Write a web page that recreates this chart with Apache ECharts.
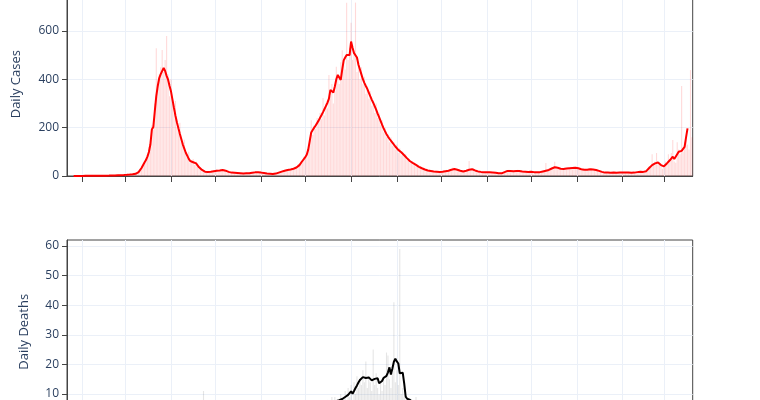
<!DOCTYPE html>
<html><head><meta charset="utf-8">
<script src="https://cdn.jsdelivr.net/npm/echarts@6/dist/echarts.min.js"></script>
<style>html,body{margin:0;padding:0;background:#fff}#c{width:760px;height:400px}</style>
</head><body><div id="c"></div>
<script>
// First day of data and number of days (one category per day)
const startDate = '2020-01-22';
const dayCount = 424;

// Daily cases (bars), index 0 = 2020-01-22
const casesDaily = [
0,0,0,0,0,0,1,0,0,0,
1,0,0,1,0,2,0,1,1,0,
1,2,1,0,2,1,2,3,1,2,
4,3,2,5,4,3,6,5,4,6,
5,8,7,6,10,9,13,14,22,30,
41,52,48,75,88,120,150,210,190,300,
528,360,420,450,521,430,480,579,420,330,
400,300,260,310,200,180,220,140,120,150,
90,80,100,55,60,70,45,60,40,30,
35,20,25,15,18,20,16,22,14,25,
20,28,18,26,30,22,28,18,15,20,
12,16,14,10,15,9,13,11,8,12,
10,14,9,12,15,11,18,14,16,19,
12,15,11,13,9,12,7,10,6,9,
11,8,15,13,20,16,24,19,28,22,
30,24,34,27,38,30,48,42,60,55,
80,72,95,110,160,230,170,210,195,240,
220,260,235,322,250,300,280,418,330,380,
300,350,452,400,380,470,520,480,440,716,
480,530,634,480,500,717,430,470,400,450,
380,410,340,370,320,350,290,310,260,300,
240,260,210,230,180,200,160,175,140,160,
125,140,110,130,95,115,85,100,80,90,
65,72,55,62,48,55,40,46,34,40,
28,32,24,30,20,26,18,24,16,22,
15,20,14,22,16,24,18,26,20,28,
22,35,26,32,22,28,18,24,15,22,
18,22,62,30,22,32,18,24,15,20,
14,19,13,18,12,17,12,16,11,15,
10,14,9,12,8,15,18,22,20,26,
18,24,17,23,19,26,18,22,16,21,
15,20,14,19,16,20,13,18,12,17,
14,19,17,24,54,22,30,26,35,34,
59,40,30,36,26,32,25,34,28,35,
29,36,28,38,30,36,27,33,24,30,
22,28,24,31,25,32,24,29,21,26,
18,22,14,18,12,16,12,15,11,16,
12,15,11,14,12,16,12,17,12,15,
12,14,11,14,13,17,14,20,16,19,
15,20,18,30,40,35,90,50,60,95,
48,55,40,30,45,60,50,90,70,95,
149,60,55,140,110,90,372,100,140,150,
130,110,438,160
];

// 7-day average of cases (line)
const casesAvg = [
null,null,null,null,0.3,0.3,0.3,0.4,0.4,0.4,
0.4,0.6,0.6,0.6,0.7,0.7,0.7,0.9,0.9,1,
1,1,1.1,1.1,1.3,1.3,1.4,1.6,1.6,1.9,
1.9,2.1,2.3,2.6,2.9,3.1,3.4,3.7,4.1,4.4,
4.9,5.3,5.9,6.4,7.0,7.9,9.1,10.6,16,24,
33,44,56,66,80,99,130,192,203,268,
330,372,405,421,418,447,434,414,398,372,
349,315,281,249,221,197,174,152,130,113,
96,84,71,62,55,57,58,52,44,36,
30,25,21,18,17,17,18,18,19,20,
21,22,23,23,24,25,24,22,19,17,
15,14,14,13,12,12,11,11,11,10,
10,11,11,11,12,13,14,15,15,15,
15,14,13,12,11,10,9,9,8,8,
9,10,12,14,16,18,20,22,24,25,
26,27,29,30,32,35,40,45,53,62,
70,78,89,110,145,180,190,200,209,217,
229,241,252,264,277,290,303,320,356,350,
345,370,400,418,410,397,440,478,490,500,
495,500,556,530,508,500,490,460,440,420,
400,385,372,360,345,330,316,303,289,274,
258,243,228,212,198,185,173,163,154,146,
138,130,122,115,108,103,98,92,86,80,
73,66,61,57,53,49,46,42,38,35,
32,29,27,25,23,22,21,20,19,18,
18,18,17,18,18,19,20,21,22,24,
26,28,29,28,26,24,22,20,19,20,
22,24,26,27,28,26,23,21,19,18,
17,17,16,16,15,15,15,14,14,13,
13,12,11,10,11,13,16,19,21,22,
21,20,20,21,21,22,21,20,19,19,
18,18,17,17,18,17,16,16,15,15,
16,17,19,21,22,23,25,28,31,34,
36,36,34,32,30,29,29,30,31,31,
32,32,33,33,34,33,32,30,28,27,
26,25,26,27,28,28,27,26,25,23,
21,19,17,15,14,14,14,13,13,14,
14,14,13,13,14,14,14,15,14,14,
14,13,13,13,14,15,16,18,18,17,
17,18,20,26,33,40,45,49,52,55,
56,52,45,38,40,48,52,58,65,72,
80,70,62,90,100,102,104,106,120,160,
197,null,null,null
];

// Daily deaths (bars)
const deathsDaily = [
0,0,0,0,0,0,0,0,0,0,
0,0,0,0,0,0,0,0,0,0,
0,0,0,0,0,0,0,0,0,0,
0,0,0,0,0,0,0,0,0,0,
0,0,0,0,0,0,0,0,0,0,
0,1,0,1,0,1,2,1,2,2,
3,2,1,4,3,5,2,4,6,3,
5,4,6,3,5,7,2,4,6,5,
3,5,4,2,6,3,4,5,3,4,
5,4,11,3,4,2,5,3,2,4,
1,3,2,1,3,2,1,2,0,1,
1,0,2,1,0,1,0,1,0,0,
1,0,0,1,0,0,1,0,0,0,
0,0,0,0,1,0,0,0,0,0,
0,1,0,0,0,1,0,0,1,0,
0,0,1,0,1,0,0,1,0,1,
0,1,2,1,2,3,1,3,4,2,
5,3,6,4,7,5,8,6,7,9,
6,9,5,8,7,10,6,9,11,7,
12,9,13,8,14,10,16,12,15,13,
18,14,21,12,16,14,11,25,13,17,
12,10,14,11,16,13,24,23,15,12,
17,41,14,18,13,59,10,12,9,7,
6,8,5,7,4,6,9,4,5,3,
4,3,5,2,4,3,2,3,1,2,
2,1,3,1,2,0,1,2,1,0,
1,0,1,1,0,1,0,1,1,0,
0,1,0,0,1,0,1,0,0,1,
0,1,0,0,1,0,0,1,0,0,
0,0,1,0,0,1,0,1,0,0,
1,0,0,1,0,0,1,0,0,1,
0,0,1,0,1,0,1,0,0,1,
0,1,1,0,1,1,2,0,1,2,
1,2,1,2,1,1,2,1,2,0,
1,2,0,1,1,0,1,1,0,1,
1,0,1,0,1,1,0,0,1,0,
0,1,0,0,1,0,0,0,1,0,
0,1,0,0,0,1,0,0,0,1,
0,0,1,0,0,0,1,0,1,0,
1,0,1,0,1,1,2,0,1,1,
2,1,0,1,2,1,1,2,1,2,
2,1,2,1,2,2,1,3,2,2,
2,3,1,2
];

// 7-day average of deaths (line)
const deathsAvg = [
null,null,null,null,0,0,0,0,0,0,
0,0,0,0,0,0,0,0,0,0,
0,0,0,0,0,0,0,0,0,0,
0,0,0,0,0,0,0,0,0,0,
0,0,0,0,0,0,0,0,0,0,
0,0.1,0.1,0.3,0.4,0.6,0.9,1.1,1.4,1.7,
2.0,2.3,2.6,2.9,3.1,3.4,3.6,3.9,4.0,4.1,
4.3,4.4,4.4,4.6,4.7,4.6,4.4,4.6,4.4,4.3,
4.1,4.0,4.1,3.9,3.7,3.6,3.7,3.9,4.0,4.1,
4.3,4.6,4.9,4.7,4.4,4.1,3.7,3.4,3.1,2.9,
2.6,2.4,2.3,2.1,1.9,1.7,1.6,1.4,1.3,1.1,
1.0,0.9,0.9,0.7,0.7,0.6,0.6,0.4,0.4,0.4,
0.3,0.3,0.3,0.3,0.1,0.1,0.3,0.3,0.1,0.1,
0.1,0.1,0,0,0.1,0.1,0.1,0,0,0,
0,0.1,0.1,0.1,0.1,0.3,0.3,0.3,0.1,0.1,
0.1,0.1,0.3,0.3,0.3,0.4,0.4,0.4,0.4,0.6,
0.6,0.6,0.9,1.1,1.4,1.7,2.0,2.4,2.7,3.1,
3.6,4.0,4.4,4.9,5.3,5.7,6.0,6.4,6.7,7.0,
7.1,7.4,7.6,7.7,7.9,8.1,8.3,8.6,9.0,9.3,
9.7,10.3,10.9,10.1,11.0,12.0,12.9,13.9,14.7,15.1,
15.7,15.9,15.4,15.3,15.6,15.7,14.6,14.3,15.1,15.4,
15.3,13.6,13.0,14.4,15.4,15.7,16.1,17.3,19.0,16.6,
18.6,20.9,21.9,21.0,20.3,17.0,17.1,17.2,13.6,9.1,
8.4,8.2,8.0,7.6,7.1,6.6,6.1,5.6,5.1,4.7,
4.3,4.0,3.7,3.4,3.1,2.9,2.6,2.4,2.1,1.9,
1.7,1.6,1.4,1.4,1.3,1.1,1.0,1.0,0.9,0.9,
0.9,0.7,0.7,0.9,0.7,0.6,0.6,0.7,0.6,0.6,
0.4,0.6,0.4,0.4,0.6,0.4,0.4,0.3,0.4,0.3,
0.3,0.4,0.3,0.3,0.3,0.1,0.3,0.3,0.1,0.1,
0.1,0.3,0.1,0.1,0.3,0.3,0.4,0.4,0.3,0.3,
0.4,0.4,0.3,0.3,0.4,0.3,0.3,0.3,0.1,0.3,
0.3,0.1,0.3,0.3,0.4,0.4,0.4,0.3,0.3,0.4,
0.4,0.6,0.6,0.7,0.7,0.9,0.9,1.0,1.1,1.1,
1.3,1.3,1.4,1.4,1.3,1.3,1.4,1.4,1.3,1.1,
1.1,1.0,1.0,0.9,0.9,0.9,0.7,0.7,0.7,0.6,
0.6,0.6,0.4,0.4,0.6,0.6,0.4,0.4,0.3,0.3,
0.3,0.3,0.1,0.1,0.3,0.3,0.1,0.1,0.1,0.1,
0.1,0.3,0.3,0.1,0.1,0.3,0.3,0.1,0.1,0.1,
0.1,0.1,0.3,0.3,0.3,0.1,0.1,0.3,0.3,0.4,
0.4,0.4,0.6,0.6,0.7,0.7,0.9,0.9,1.0,1.0,
1.1,1.1,1.0,1.0,1.1,1.1,1.3,1.3,1.4,1.4,
1.6,1.6,1.4,1.4,1.6,1.7,1.7,1.9,2.0,2.1,
2.3,null,null,null
];

// Tick values
const casesTicks = [0, 200, 400, 600];
const deathsTicks = [0, 10, 20, 30, 40, 50, 60];

// Category labels: one date string per day
const dates = [];
(function () {
  const p = startDate.split('-').map(Number);
  for (let i = 0; i < dayCount; i++) {
    const d = new Date(Date.UTC(p[0], p[1] - 1, p[2] + i));
    dates.push(d.toISOString().slice(0, 10));
  }
})();

const isMonthStart = function (idx, val) { return String(val).slice(8) === '01'; };
const axisColor = '#444';
const gridColor = '#EBF0F8';
const textColor = '#2a3f5f';
const font = 'Open Sans, Verdana, Arial, sans-serif';

function xAxisFor(gi) {
  return {
    type: 'category', gridIndex: gi, data: dates, boundaryGap: true,
    axisLine: { show: true, lineStyle: { color: axisColor, width: 1 } },
    axisTick: { show: true, interval: isMonthStart, alignWithLabel: true, length: 6, lineStyle: { color: axisColor } },
    axisLabel: { show: false },
    splitLine: { show: true, interval: isMonthStart, alignWithLabel: true, lineStyle: { color: gridColor, width: 1 } }
  };
}
function yAxisFor(gi, max, interval, ticks, name, gap) {
  return {
    type: 'value', gridIndex: gi, min: 0, max: max, interval: interval,
    name: name, nameLocation: 'middle', nameGap: gap,
    nameTextStyle: { color: textColor, fontSize: 13, fontFamily: font },
    axisLine: { show: true, lineStyle: { color: axisColor, width: 1 } },
    axisTick: { show: true, length: 5, customValues: ticks, lineStyle: { color: axisColor } },
    axisLabel: { customValues: ticks, color: textColor, fontSize: 12, fontFamily: font, margin: 8 },
    splitLine: { show: true, lineStyle: { color: gridColor, width: 1 } }
  };
}

const chart = echarts.init(document.getElementById('c'), null, { renderer: 'canvas' });
chart.setOption({
  animation: false,
  backgroundColor: '#fff',
  grid: [
    { left: 67, right: 67.3, top: -7.6, height: 183.6, outerBoundsMode: 'none', containLabel: false,
      show: true, borderColor: axisColor, borderWidth: 1, backgroundColor: 'transparent' },
    { left: 67, right: 67.3, top: 240, height: 183.6, outerBoundsMode: 'none', containLabel: false,
      show: true, borderColor: axisColor, borderWidth: 1, backgroundColor: 'transparent' }
  ],
  xAxis: [xAxisFor(0), xAxisFor(1)],
  yAxis: [
    yAxisFor(0, 759, 200, casesTicks, 'Daily Cases', 44),
    yAxisFor(1, 62, 10, deathsTicks, 'Daily Deaths', 36)
  ],
  series: [
    { type: 'bar', xAxisIndex: 0, yAxisIndex: 0, data: casesDaily, barCategoryGap: '25%',
      itemStyle: { color: 'rgba(255,0,0,0.15)' }, z: 1 },
    { type: 'line', xAxisIndex: 0, yAxisIndex: 0, data: casesAvg, showSymbol: false, symbol: 'none',
      lineStyle: { color: '#ff0000', width: 2 }, z: 3 },
    { type: 'bar', xAxisIndex: 1, yAxisIndex: 1, data: deathsDaily, barCategoryGap: '25%',
      itemStyle: { color: 'rgba(0,0,0,0.1)' }, z: 1 },
    { type: 'line', xAxisIndex: 1, yAxisIndex: 1, data: deathsAvg, showSymbol: false, symbol: 'none',
      lineStyle: { color: '#000000', width: 2 }, z: 3 }
  ]
});
</script>
</body></html>
